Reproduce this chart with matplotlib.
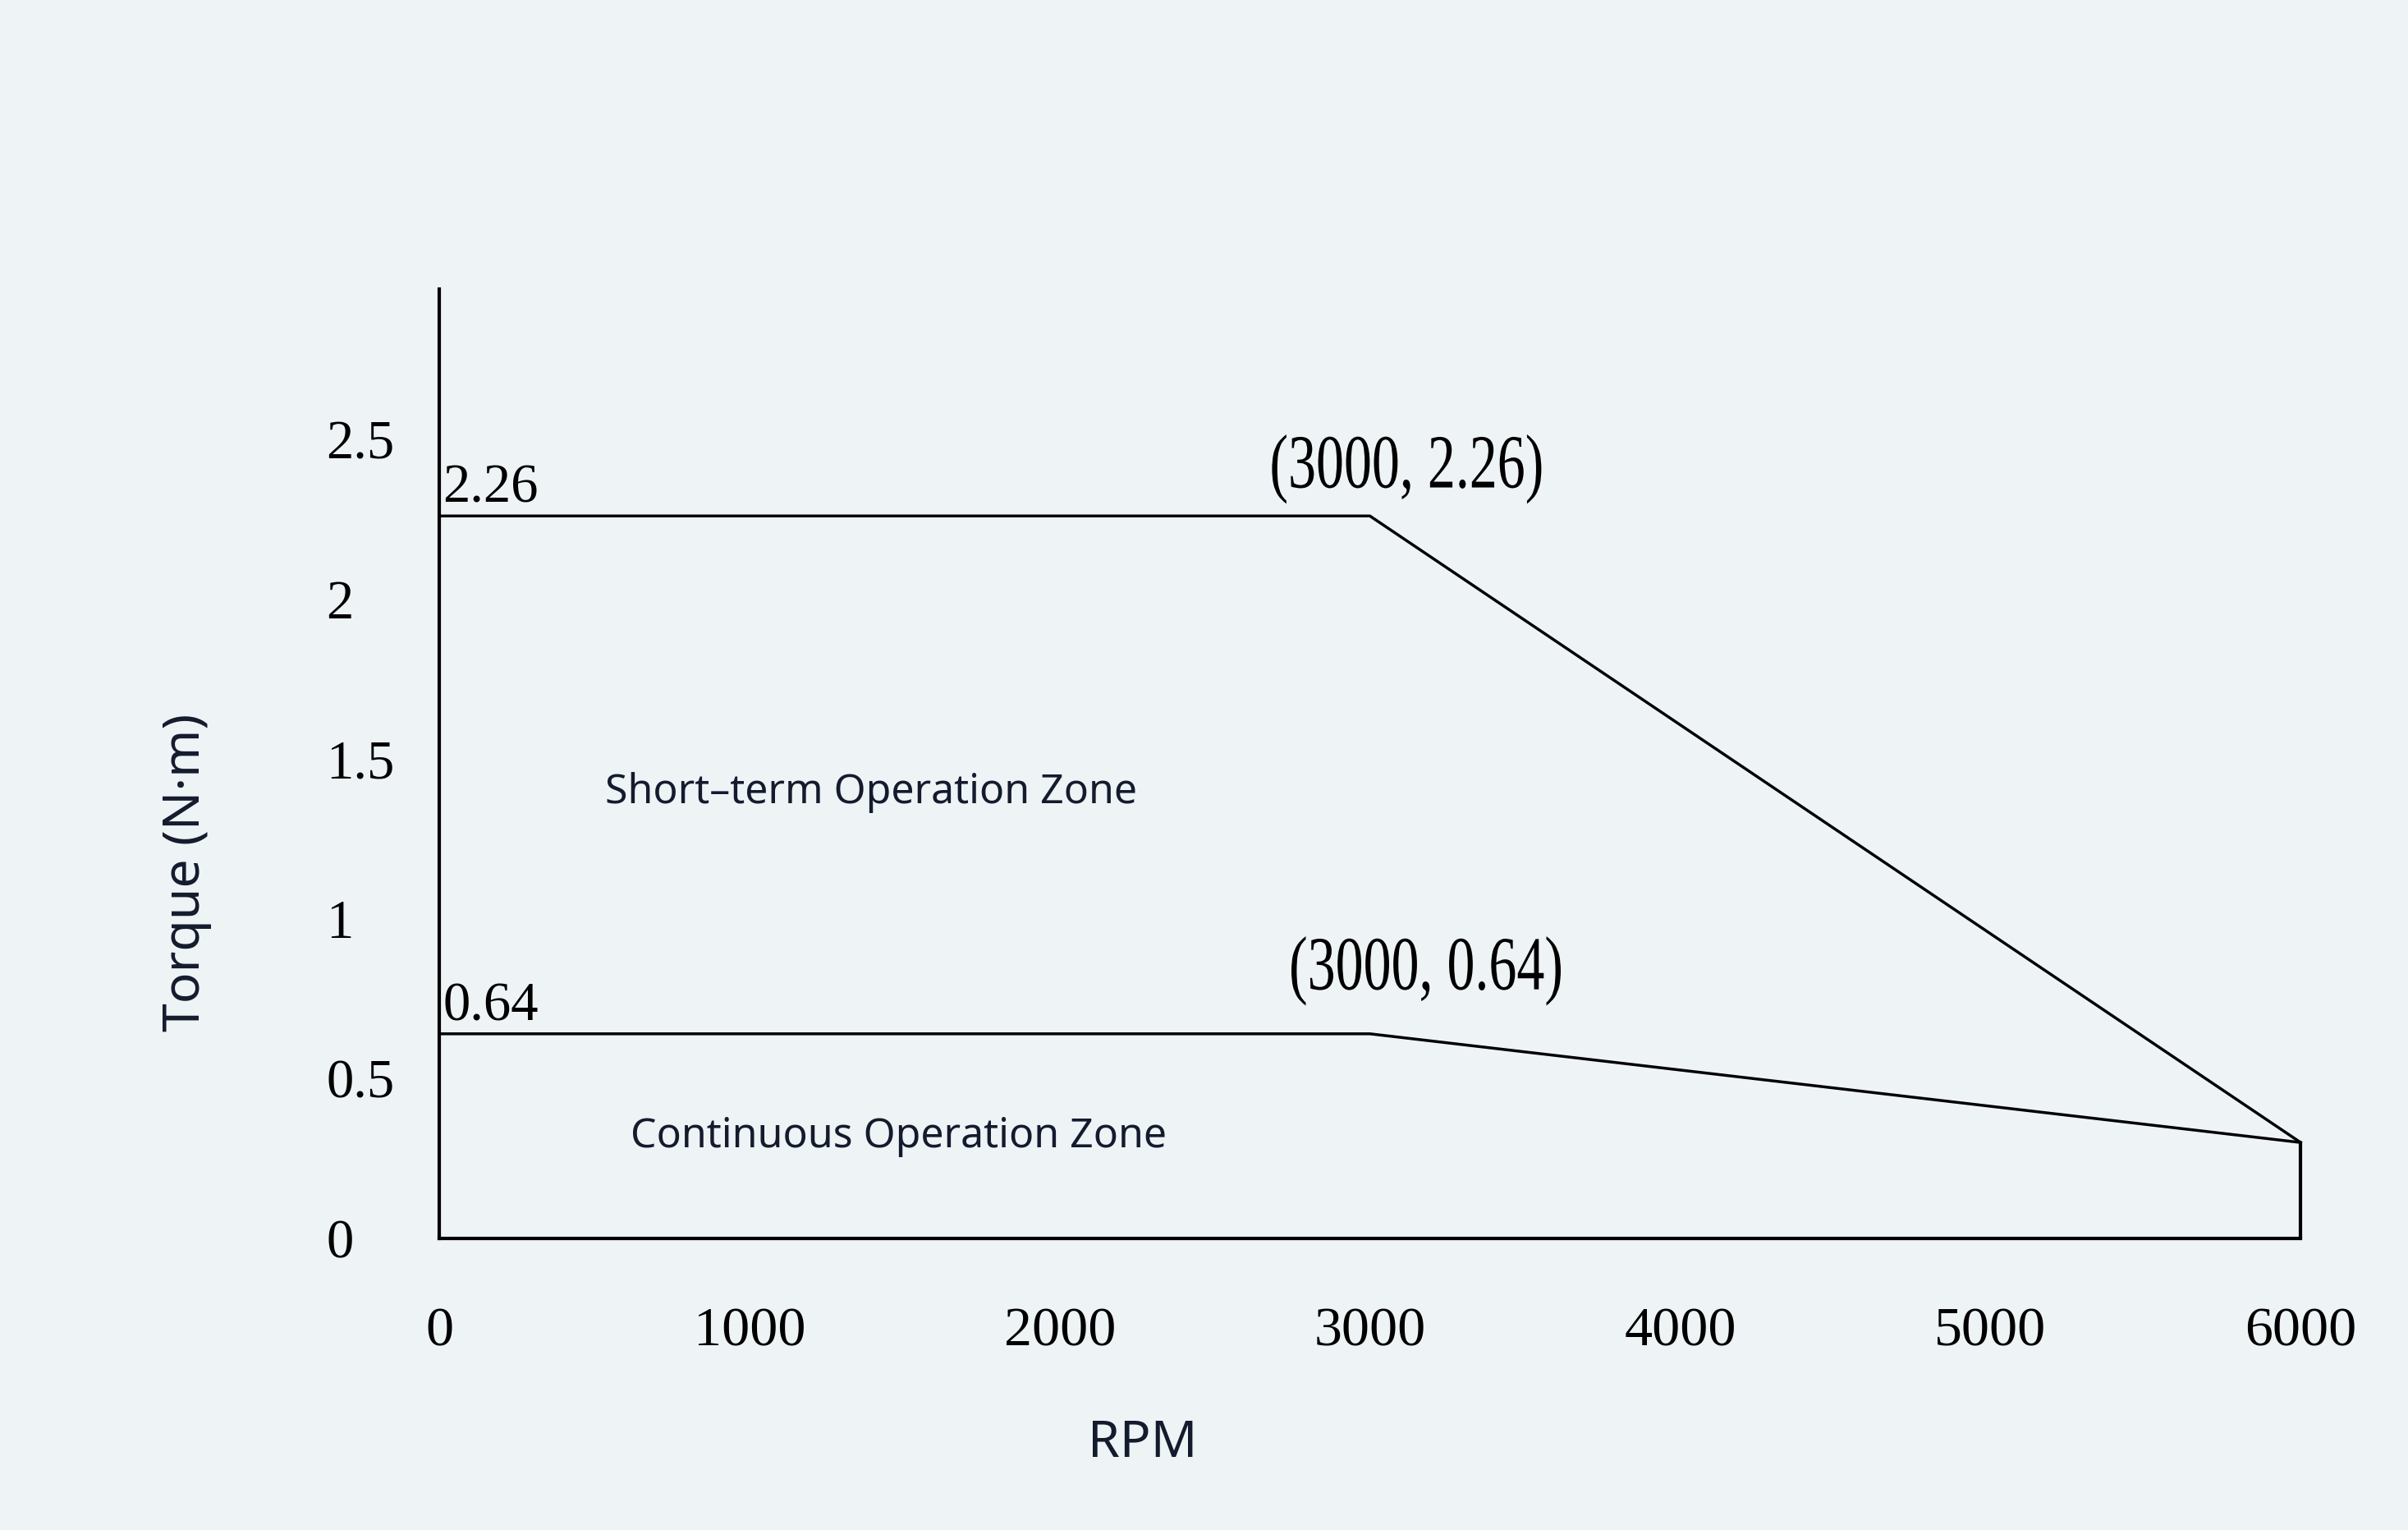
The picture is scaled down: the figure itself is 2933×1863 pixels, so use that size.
import matplotlib
matplotlib.use('Agg')
import matplotlib.pyplot as plt
from matplotlib.patheffects import AbstractPathEffect
from matplotlib.transforms import Affine2D

# torque curve corners (RPM, N·m)
rpm = [0, 3000, 6000]
short_term = [2.26, 2.26, 0.30]
continuous = [0.64, 0.64, 0.30]

rpm_ticks = [0, 1000, 2000, 3000, 4000, 5000, 6000]
torque_ticks = [0, 0.5, 1, 1.5, 2, 2.5]
torque_tick_labels = ['0', '0.5', '1', '1.5', '2', '2.5']

BG = '#eef3f6'
NAVY = '#141b2d'
SERIF = 'Liberation Serif'
SANS = 'Noto Sans'


class Squeeze(AbstractPathEffect):
    """narrow a text horizontally around its own centre"""
    def __init__(self, sx):
        super().__init__()
        self.sx = sx

    def draw_path(self, renderer, gc, tpath, affine, rgbFace=None):
        ext = tpath.get_extents()
        cx = (ext.x0 + ext.x1) / 2
        t = Affine2D().translate(-cx, 0).scale(self.sx, 1).translate(cx, 0) + affine
        renderer.draw_path(gc, tpath, t, rgbFace)


fig = plt.figure(figsize=(29.33, 18.63), dpi=100, facecolor=BG)
ax = fig.add_axes([0.1824, 0.1906, 0.773, 0.6205])
ax.set_facecolor(BG)

ax.plot(rpm, short_term, color='black', lw=2.5, clip_on=False)
ax.plot(rpm, continuous, color='black', lw=2.5, clip_on=False)
ax.vlines(rpm[-1], 0, continuous[-1], color='black', lw=3, clip_on=False)

ax.set_xlim(0, 6000)
ax.set_ylim(0, 2.97)
for s in ['top', 'right']:
    ax.spines[s].set_visible(False)
for s in ['left', 'bottom']:
    ax.spines[s].set_linewidth(3)
    ax.spines[s].set_color('black')

ax.set_xticks(rpm_ticks)
ax.set_xticklabels([str(v) for v in rpm_ticks], fontfamily=SERIF, fontsize=49)
ax.tick_params(axis='x', length=0, pad=60)

ax.set_yticks(torque_ticks)
ax.set_yticklabels(torque_tick_labels, fontfamily=SERIF, fontsize=48, ha='left')
ax.tick_params(axis='y', length=0, pad=99)

# values at the left edge
ax.annotate(f'{short_term[0]:.2f}', xy=(rpm[0], short_term[0]), xytext=(3, 12),
            textcoords='offset points', ha='left', va='baseline',
            fontfamily=SERIF, fontsize=48)
ax.annotate(f'{continuous[0]:.2f}', xy=(rpm[0], continuous[0]), xytext=(3, 12),
            textcoords='offset points', ha='left', va='baseline',
            fontfamily=SERIF, fontsize=48)

# corner annotations
ax.annotate(f'({rpm[1]}, {short_term[1]:.2f})', xy=(rpm[1], short_term[1]), xytext=(32, 25),
            textcoords='offset points', ha='center', va='baseline',
            fontfamily=SERIF, fontsize=67, path_effects=[Squeeze(0.73)])
ax.annotate(f'({rpm[1]}, {continuous[1]:.2f})', xy=(rpm[1], continuous[1]), xytext=(49, 39),
            textcoords='offset points', ha='center', va='baseline',
            fontfamily=SERIF, fontsize=67, path_effects=[Squeeze(0.73)])

# zone names
ax.text(0.232, 0.47, 'Short\u2013term Operation Zone', transform=ax.transAxes,
        ha='center', va='center', fontfamily=SANS, fontsize=36, color=NAVY)
ax.text(0.247, 0.107, 'Continuous Operation Zone', transform=ax.transAxes,
        ha='center', va='center', fontfamily=SANS, fontsize=36, color=NAVY)

fig.text(227 / 2933, 1 - 1062 / 1863, 'Torque (N·m)', rotation=90, ha='center', va='center',
         fontfamily=SANS, fontsize=45, color=NAVY)
fig.text(1392 / 2933, 1 - 1758 / 1863, 'RPM', ha='center', va='center',
         fontfamily=SANS, fontsize=45, color=NAVY)

fig.savefig('out.png', dpi=100, facecolor=BG)
